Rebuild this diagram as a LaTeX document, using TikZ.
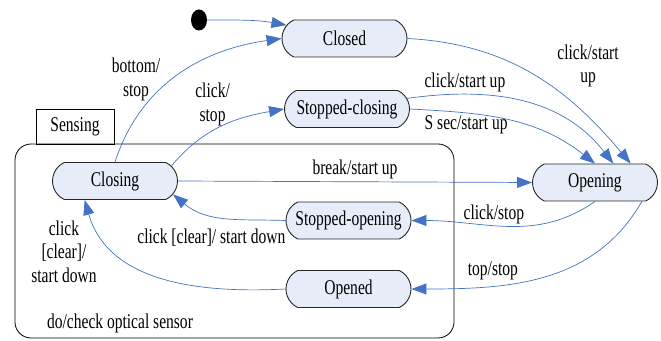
\documentclass[tikz,border=0pt]{standalone}
\usepackage{fontspec}
\setmainfont{Liberation Serif}[FakeStretch=0.74]
\usetikzlibrary{shapes.misc,shapes.geometric,arrows.meta}
\definecolor{statefill}{RGB}{230,236,248}
\definecolor{flowblue}{RGB}{68,114,196}

\begin{document}
\begin{tikzpicture}[x=1pt, y=1pt, font=\fontsize{21pt}{23.5pt}\selectfont,
    state/.style={rounded rectangle, rounded rectangle arc length=130, draw=black!85, line width=0.9pt,
      fill=statefill, minimum width=125pt, minimum height=37pt, inner sep=0pt},
    flow/.style={draw=flowblue, line width=0.7pt, -{Triangle[length=15pt, width=11pt]}},
    lbl/.style={inner sep=2pt, align=center}]
  \useasboundingbox (0,0) rectangle (661,340);

  % super state
  \draw[line width=0.8pt, rounded corners=16pt] (15,196) rectangle (454,2);
  \node[draw, line width=0.8pt, minimum width=78pt, minimum height=35pt, inner sep=0pt] (sensing) at (75,213.5) {Sensing};
  \node[lbl] (doaction) at (120,17) {do/check optical sensor};

  \node[ellipse, fill, minimum width=16pt, minimum height=21pt, inner sep=0pt] (init) at (199,320) {};
  \node[state] (closed) at (344.5,301.5) {Closed};
  \node[state] (stopclosing) at (347,231) {Stopped-closing};
  \node[state] (closing) at (115,159) {Closing};
  \node[state] (opening) at (595,157.5) {Opening};
  \node[state] (stopopening) at (348.5,119.5) {Stopped-opening};
  \node[state] (opened) at (348.5,51) {Opened};

  \draw[flow] (init) to[out=0, in=170] (closed.167);
  \draw[flow] (closing.north) to[out=72, in=188] node[lbl, pos=0.47, left=10pt] {bottom/\\stop} (closed.west);
  \draw[flow] (closing.15) to[out=50, in=190] node[lbl, pos=0.47, above left, xshift=14pt] {click/\\stop} (stopclosing.west);
  \draw[flow] (closing.east) -- node[lbl, above] {break/start up} (opening.west);
  \draw[flow] (closed.east) to[out=-3, in=130] node[lbl, pos=0.61, above right] {click/start\\up} (opening.28);
  \draw[flow] (stopclosing.10) to[out=8, in=128] node[lbl, pos=0.24, above] {click/start up} (opening.46);
  \draw[flow] (stopclosing.east) to[out=-3, in=142] node[lbl, pos=0.27, below] {S sec/start up} (opening.north);
  \draw[flow] (opening.south) to[out=215, in=0] node[lbl, pos=0.58, above] {click/stop} (stopopening.east);
  \draw[flow] (opening.-22) to[out=240, in=0] node[lbl, pos=0.6, above left] {top/stop} (opened.east);
  \draw[flow] (stopopening.west) to[out=178, in=-40] node[lbl, pos=0.5, below=9pt, xshift=-14pt] {click [clear]/ start down} (closing.-13);
  \draw[flow] (opened.west) to[out=183, in=286] node[lbl, pos=0.72, left=6pt, xshift=-14pt, yshift=2pt] {click\\{[clear]/}\\start down} (closing.212);
\end{tikzpicture}
\end{document}
